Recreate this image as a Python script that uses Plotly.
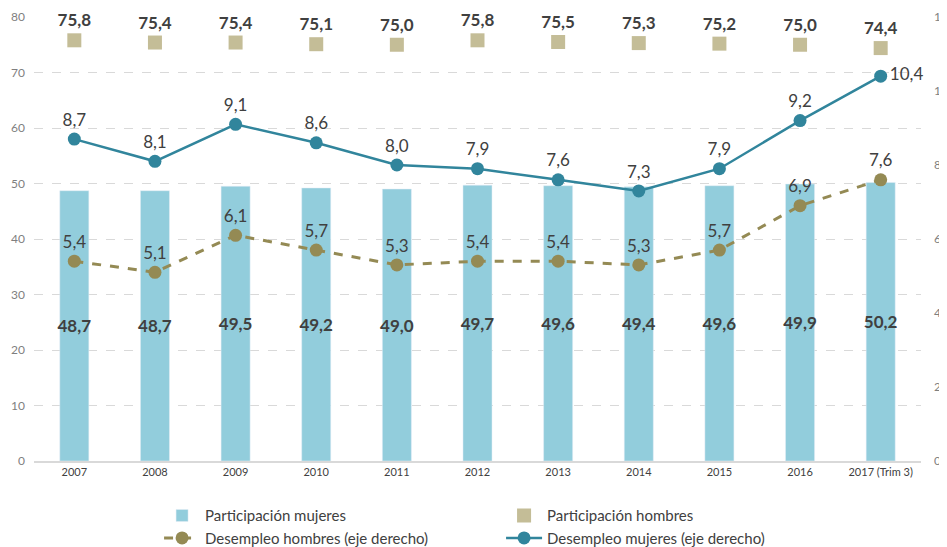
import plotly.graph_objects as go

categories = ["2007", "2008", "2009", "2010", "2011", "2012", "2013", "2014", "2015", "2016", "2017 (Trim 3)"]
part_mujeres = [48.7, 48.7, 49.5, 49.2, 49.0, 49.7, 49.6, 49.4, 49.6, 49.9, 50.2]
part_hombres = [75.8, 75.4, 75.4, 75.1, 75.0, 75.8, 75.5, 75.3, 75.2, 75.0, 74.4]
desemp_hombres = [5.4, 5.1, 6.1, 5.7, 5.3, 5.4, 5.4, 5.3, 5.7, 6.9, 7.6]
desemp_mujeres = [8.7, 8.1, 9.1, 8.6, 8.0, 7.9, 7.6, 7.3, 7.9, 9.2, 10.4]

def fmt(v):
    return f"{v:.1f}".replace(".", ",")

FONT = "Lato"
fig = go.Figure()

fig.add_trace(go.Bar(
    x=categories, y=part_mujeres, name="Participación mujeres",
    marker=dict(color="#92CDDC"), width=0.36,
    text=[fmt(v) for v in part_mujeres], textposition="inside",
    insidetextanchor="middle", textangle=0, constraintext="none",
    textfont=dict(family=FONT, size=17, color="#404040", weight="bold"),
    yaxis="y",
))
fig.add_trace(go.Scatter(
    x=categories, y=part_hombres, name="Participación hombres", mode="markers+text",
    marker=dict(symbol="square", size=14, color="#C4BD97"),
    text=[fmt(v) for v in part_hombres], textposition="top center",
    textfont=dict(family=FONT, size=17, color="#404040", weight="bold"),
    cliponaxis=False, yaxis="y",
))
fig.add_trace(go.Scatter(
    x=categories, y=desemp_hombres, name="Desempleo hombres (eje derecho)",
    mode="lines+markers+text",
    line=dict(color="#948A54", width=3, dash="dash"),
    marker=dict(symbol="circle", size=13, color="#948A54"),
    text=[fmt(v) for v in desemp_hombres], textposition="top center",
    textfont=dict(family=FONT, size=17, color="#404040"),
    cliponaxis=False, yaxis="y2",
))
pos_m = ["top center"] * (len(desemp_mujeres) - 1) + ["middle right"]
fig.add_trace(go.Scatter(
    x=categories, y=desemp_mujeres, name="Desempleo mujeres (eje derecho)",
    mode="lines+markers+text",
    line=dict(color="#31859C", width=2.5),
    marker=dict(symbol="circle", size=13, color="#31859C"),
    text=[fmt(v) for v in desemp_mujeres], textposition=pos_m,
    textfont=dict(family=FONT, size=17, color="#404040"),
    cliponaxis=False, yaxis="y2",
))

fig.update_layout(
    width=947, height=547,
    margin=dict(l=26, r=34, t=9, b=94),
    paper_bgcolor="white", plot_bgcolor="white",
    font=dict(family=FONT, color="#595959"),
    xaxis=dict(
        range=[-0.5, len(categories) - 0.5],
        tickfont=dict(size=11, color="#404040"),
        showline=True, linecolor="#D9D9D9", linewidth=1.5,
        showgrid=False, ticks="", automargin=False,
    ),
    yaxis=dict(
        range=[0, 80], dtick=10, showgrid=True, gridcolor="#D9D9D9",
        griddash="dash", gridwidth=1, zeroline=False, automargin=False,
        tickfont=dict(size=12, color="#7F7F7F"), ticklabelstandoff=8,
    ),
    yaxis2=dict(
        range=[0, 12], dtick=2, overlaying="y", side="right",
        showgrid=False, zeroline=False, automargin=False,
        tickfont=dict(size=12, color="#7F7F7F"), ticklabelstandoff=12,
    ),
    showlegend=True,
    legend=dict(
        orientation="h", x=0.141, xanchor="left",
        yref="container", y=0.102, yanchor="top",
        entrywidth=291, entrywidthmode="pixels",
        font=dict(size=15, color="#404040"), tracegroupgap=0,
        itemwidth=36, bgcolor="rgba(0,0,0,0)",
    ),
)

fig.write_html("out.html")
